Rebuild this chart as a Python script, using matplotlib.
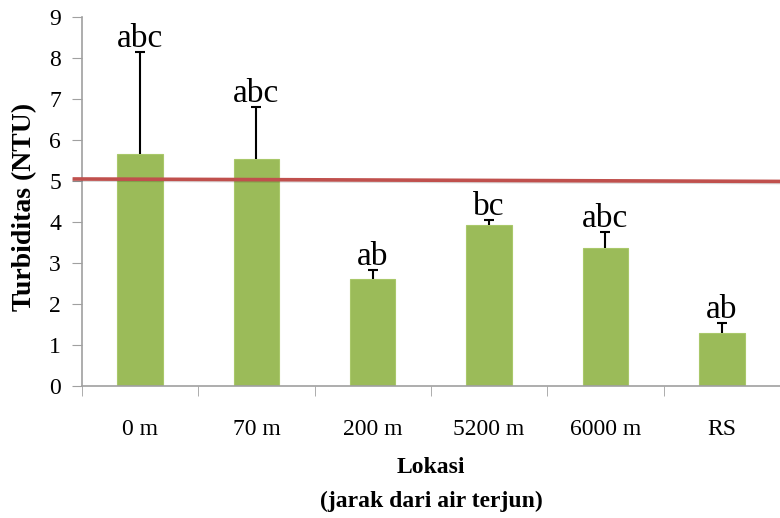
import matplotlib
matplotlib.use("Agg")
import matplotlib.pyplot as plt
import matplotlib.patheffects as pe

# turbidity per sampling location
lokasi = ['0 m', '70 m', '200 m', '5200 m', '6000 m', 'RS']
turbiditas = [5.65, 5.53, 2.62, 3.92, 3.36, 1.30]
galat = [2.50, 1.27, 0.21, 0.14, 0.39, 0.23]
notasi = ['abc', 'abc', 'ab', 'bc', 'abc', 'ab']
# quality standard line (drawn slightly tilted)
baku_mutu = [5.05, 4.99]

plt.rcParams['font.family'] = ['Liberation Serif', 'DejaVu Serif']

fig = plt.figure(figsize=(7.8, 5.18), dpi=100)
ax = fig.add_axes([0.105, 0.255, 0.895, 0.712])

x = range(len(lokasi))
ax.bar(x, turbiditas, width=0.39, color='#9BBB59', edgecolor='#A9C86A', linewidth=0.8, zorder=2)
eb = ax.errorbar(x, turbiditas, yerr=[[0] * len(galat), galat], fmt='none', ecolor='black',
                 elinewidth=1.5, capsize=3.5, capthick=1.5, zorder=3)
# only the upper cap is shown
eb[1][0].set_visible(False)

for i, (v, e, t) in enumerate(zip(turbiditas, galat, notasi)):
    ax.annotate(t, (i, v + e), xytext=(0, -1.5), textcoords='offset points',
                ha='center', va='bottom', fontsize=24)

ax.plot([-0.58, 5.5], baku_mutu, color='#C0504D', linewidth=2.6, clip_on=False, zorder=4,
        solid_capstyle='butt',
        path_effects=[pe.SimpleLineShadow(offset=(0, -0.8), alpha=0.15), pe.Normal()])

ax.set_xlim(-0.5, 5.5)
ax.set_ylim(0, 9)
ax.set_yticks(range(10))
ax.tick_params(axis='y', labelsize=17, length=7, color='#A0A0A0', pad=8)

ax.set_xticks(list(x))
ax.set_xticklabels(lokasi, fontsize=17)
ax.tick_params(axis='x', which='major', length=0, pad=24)
ax.set_xticks([i - 0.5 for i in range(len(lokasi) + 1)], minor=True)
ax.tick_params(axis='x', which='minor', length=7, color='#A0A0A0')

for s in ['top', 'right']:
    ax.spines[s].set_visible(False)
for s in ['left', 'bottom']:
    ax.spines[s].set_color('#A0A0A0')
    ax.spines[s].set_linewidth(1.2)

fig.text(0.032, 0.6, 'Turbiditas (NTU)', rotation=90, ha='center', va='center',
         fontsize=20, fontweight='bold')
fig.text(0.553, 0.097, 'Lokasi', ha='center', va='center', fontsize=17, fontweight='bold')
fig.text(0.553, 0.032, '(jarak dari air terjun)', ha='center', va='center', fontsize=17, fontweight='bold')

fig.savefig('out.png', dpi=100)
